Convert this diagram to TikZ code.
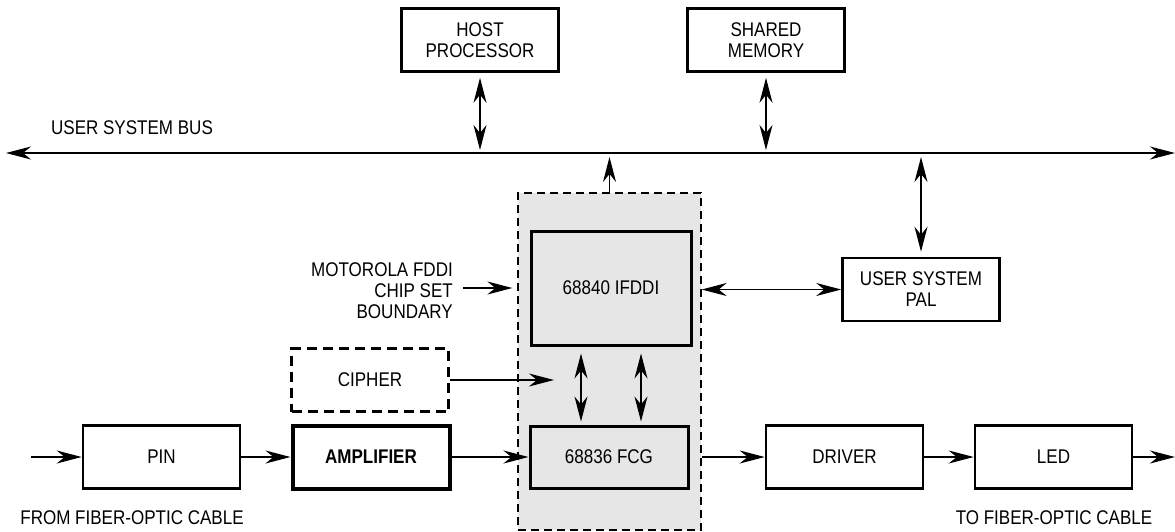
\documentclass[tikz,border=0pt]{standalone}
\usepackage{fontspec}
\setmainfont[FakeStretch=0.86]{Liberation Sans}
\usetikzlibrary{arrows.meta}
\definecolor{shade}{RGB}{230,230,230}
\begin{document}
\begin{tikzpicture}[x=1pt,y=-1pt,
  txt/.style={font=\fontsize{19.8}{22}\selectfont},
  box/.style={draw, line width=2.6pt, minimum width=157pt, minimum height=63pt, inner sep=0pt, align=center, txt},
  lbl/.style={inner sep=0pt, align=center, txt},
  tip/.tip={Stealth[length=25pt,width=13pt,inset=8pt]},
  arr/.style={-tip, line width=1.4pt},
  darr/.style={tip-tip, line width=1.4pt}]
\useasboundingbox (0,0) rectangle (1175,531);
% bus
\coordinate (busL) at (6,153);
\coordinate (busR) at (1175,153);
\draw[darr] (busL) -- (busR);
\node[lbl] (buslbl) at (132,128) {USER SYSTEM BUS};
% top boxes
\node[box] (host) at (480,40) {HOST\\[-1pt]PROCESSOR};
\node[box] (shared) at (766,40) {SHARED\\[-1pt]MEMORY};
\draw[darr, shorten <=5pt, shorten >=3pt] (host.south) -- (host.south |- busL);
\draw[darr, shorten <=5pt, shorten >=3pt] (shared.south) -- (shared.south |- busL);
% chip set region
\node[draw, dash pattern=on 8pt off 5pt, fill=shade, line width=1.3pt, minimum width=183pt, minimum height=337pt, inner sep=0pt] (chip) at (609.5,361.5) {};
\node[box, fill=shade, line width=3pt, minimum width=160pt, minimum height=114pt] (ifddi) at (611,288) {68840 IFDDI};
\node[box, fill=shade, line width=3pt, minimum width=158pt, minimum height=62pt] (fcg) at (609,457) {68836 FCG};
\draw[arr, shorten >=4pt] (chip.north) -- (chip.north |- busL);
% PAL
\node[box] (pal) at (921,289.5) {USER SYSTEM\\[-1pt]PAL};
\draw[darr, shorten <=4pt, shorten >=5pt] (pal.north |- busL) -- (pal.north);
\draw[darr] (chip.east |- pal) -- (pal.west);
% boundary label
\node[lbl, align=right, anchor=east] (moto) at (453,291) {MOTOROLA FDDI\\[-1pt]CHIP SET\\[-1pt]BOUNDARY};
\draw[arr, shorten <=10pt, shorten >=5pt] (moto.east |- ifddi) -- (chip.west |- ifddi);
% cipher
\node[box, dash pattern=on 10pt off 6pt, line width=2.8pt] (cipher) at (370,380) {CIPHER};
\coordinate (cip) at (554,380);
\draw[arr] (cipher.east) -- (cip);
% ifddi <-> fcg
\coordinate (d1) at (581,0);
\coordinate (d2) at (641,0);
\draw[darr, shorten <=7pt, shorten >=3pt] (ifddi.south -| d1) -- (fcg.north -| d1);
\draw[darr, shorten <=7pt, shorten >=3pt] (ifddi.south -| d2) -- (fcg.north -| d2);
% bottom chain
\node[box] (pin) at (161.5,457) {PIN};
\node[box, line width=4pt, font=\fontsize{19.8}{22}\selectfont\bfseries] (amp) at (371,457) {AMPLIFIER};
\node[box] (driver) at (844.5,457) {DRIVER};
\node[box] (led) at (1053.5,457) {LED};
\coordinate (in) at (31,457);
\coordinate (out) at (1175,457);
\draw[arr] (in) -- (pin.west);
\draw[arr] (pin) -- (amp);
\draw[arr, line width=2.4pt] (amp) -- (fcg);
\draw[arr] (chip.east |- fcg) -- (driver.west);
\draw[arr] (driver) -- (led);
\draw[arr] (led) -- (out);
\node[lbl] (from) at (132,518) {FROM FIBER-OPTIC CABLE};
\node[lbl] (to) at (1054,518) {TO FIBER-OPTIC CABLE};
\end{tikzpicture}
\end{document}
